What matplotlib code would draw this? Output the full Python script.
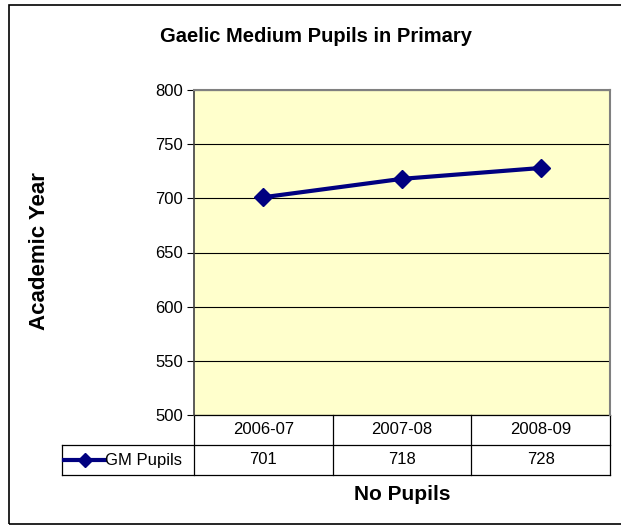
import matplotlib.pyplot as plt
from matplotlib.lines import Line2D
from matplotlib.patches import Rectangle

plt.rcParams["font.family"] = ["Liberation Sans", "DejaVu Sans"]

years = ["2006-07", "2007-08", "2008-09"]
pupils = [701, 718, 728]
series_name = "GM Pupils"
yticks = [500, 550, 600, 650, 700, 750, 800]

W, H = 621, 528
NAVY = "#000080"


def fx(px):
    return px / W


def fy(py):
    return 1 - py / H


fig = plt.figure(figsize=(W / 100, H / 100), dpi=100)

# outer chart frame
fig.patches.append(Rectangle((fx(9), fy(524)), fx(640 - 9), (524 - 5) / H,
                             transform=fig.transFigure, fill=False,
                             edgecolor="black", linewidth=1.2))

left, right, top, bottom = 194, 610, 90, 415
ax = fig.add_axes([fx(left), fy(bottom), fx(right - left), (bottom - top) / H])
ax.set_facecolor("#FFFFCC")
x = list(range(len(years)))
ax.plot(x, pupils, color=NAVY, linewidth=3, marker="D", markersize=9,
        zorder=5, clip_on=False)
ax.set_xlim(-0.5, len(years) - 0.5)
ax.set_ylim(500, 800)
ax.set_yticks(yticks)
ax.set_yticklabels([str(t) for t in yticks], fontsize=12)
ax.set_xticks([])
ax.tick_params(axis="y", length=5, width=0.8, pad=3)
ax.grid(axis="y", color="black", linewidth=0.8)
ax.set_axisbelow(True)
for side in ["top", "right"]:
    ax.spines[side].set_color("#808080")
    ax.spines[side].set_linewidth(1.5)
ax.spines["left"].set_color("#404040")
ax.spines["left"].set_linewidth(1.2)
ax.spines["bottom"].set_visible(False)

# data table below the axes
row_h = 30 / (bottom - top)
tbl_left = (62 - left) / (right - left)
kw = dict(transform=ax.transAxes, color="black", linewidth=0.9, clip_on=False)
ax.add_line(Line2D([0, 1], [0, 0], **kw))
ax.add_line(Line2D([tbl_left, 1], [-row_h, -row_h], **kw))
ax.add_line(Line2D([tbl_left, 1], [-2 * row_h, -2 * row_h], **kw))
ax.add_line(Line2D([tbl_left, tbl_left], [-row_h, -2 * row_h], **kw))
ax.add_line(Line2D([0, 0], [0, -2 * row_h], **kw))
for i in range(1, len(years) + 1):
    xf = i / len(years)
    ax.add_line(Line2D([xf, xf], [0, -2 * row_h], **kw))

for i, (yr, v) in enumerate(zip(years, pupils)):
    xc = (i + 0.5) / len(years)
    ax.text(xc, -0.5 * row_h, yr, transform=ax.transAxes, ha="center",
            va="center", fontsize=12)
    ax.text(xc, -1.5 * row_h, str(v), transform=ax.transAxes, ha="center",
            va="center", fontsize=12)

# legend key inside the table
key_x0 = (64 - left) / (right - left)
key_x1 = (105 - left) / (right - left)
ax.add_line(Line2D([key_x0, key_x1], [-1.5 * row_h, -1.5 * row_h],
                   transform=ax.transAxes, color=NAVY, linewidth=3,
                   clip_on=False))
ax.add_line(Line2D([(key_x0 + key_x1) / 2], [-1.5 * row_h], marker="D",
                   markersize=7, color=NAVY, transform=ax.transAxes,
                   clip_on=False))
ax.text((105 - left) / (right - left), -1.5 * row_h, series_name,
        transform=ax.transAxes, ha="left", va="center", fontsize=12)

fig.text(fx(316), fy(37), "Gaelic Medium Pupils in Primary", ha="center",
         va="center", fontsize=14.5, fontweight="bold")
fig.text(fx(402), fy(495), "No Pupils", ha="center", va="center",
         fontsize=15, fontweight="bold")
fig.text(fx(40), fy(251), "Academic Year", ha="center", va="center",
         rotation=90, fontsize=16, fontweight="bold")

fig.savefig("out.png", dpi=100)
